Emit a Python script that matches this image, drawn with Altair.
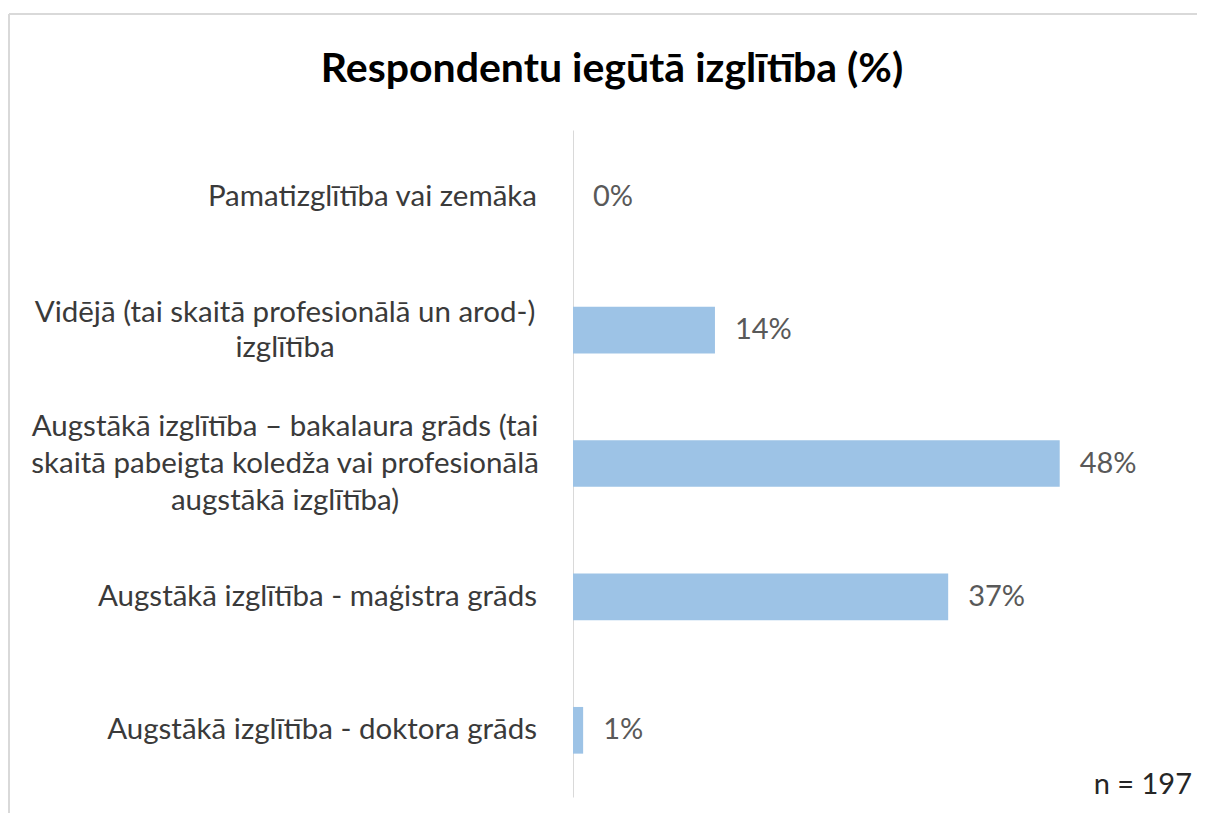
import altair as alt
import pandas as pd

categories = [
    "Pamatizglītība vai zemāka",
    "Vidējā (tai skaitā profesionālā un arod-) izglītība",
    "Augstākā izglītība – bakalaura grāds (tai skaitā pabeigta koledža vai profesionālā augstākā izglītība)",
    "Augstākā izglītība - maģistra grāds",
    "Augstākā izglītība - doktora grāds",
]
label_lines = [
    ["Pamatizglītība vai zemāka"],
    ["Vidējā (tai skaitā profesionālā un arod-)", "izglītība"],
    ["Augstākā izglītība – bakalaura grāds (tai", "skaitā pabeigta koledža vai profesionālā", "augstākā izglītība)"],
    ["Augstākā izglītība - maģistra grāds"],
    ["Augstākā izglītība - doktora grāds"],
]
values = [0, 14, 48, 37, 1]
value_labels = ["0%", "14%", "48%", "37%", "1%"]
title_text = "Respondentu iegūtā izglītība (%)"
note_text = "n = 197"

df = pd.DataFrame({
    "cat": categories,
    "lines": label_lines,
    "nlines": [len(l) for l in label_lines],
    "val": values,
    "lbl": value_labels,
})

FONT = "Lato"
FS = 29.5
LH = 37
LABEL_COLOR = "#3A3A3A"
W, H = 507, 667

y = alt.Y("cat:N", sort=categories,
          scale=alt.Scale(paddingInner=0.65, paddingOuter=0.325),
          axis=alt.Axis(labels=False, ticks=False, title=None, grid=False,
                        domainColor="#D9D9D9", domainWidth=1))
x = alt.X("val:Q", scale=alt.Scale(domain=[0, 50]), axis=None)

base = alt.Chart(df)
one = base.transform_filter("datum.val == 48")

bars = base.mark_bar(color="#9DC3E6").encode(x=x, y=y)

vals = base.mark_text(align="left", baseline="middle", dx=20, font=FONT,
                      fontSize=29, color="#595959").encode(x=x, y=y, text="lbl:N")

single = base.transform_filter("datum.nlines == 1").mark_text(
    align="right", baseline="middle", font=FONT, fontSize=FS, color=LABEL_COLOR
).encode(x=alt.value(-36), y=y, text="lines")

two = base.transform_filter("datum.nlines == 2").mark_text(
    align="center", baseline="middle", font=FONT, fontSize=FS, color=LABEL_COLOR,
    lineHeight=LH - 2, dy=-(LH - 2) / 2
).encode(x=alt.value(-288), y=y, text="lines")

three = base.transform_filter("datum.nlines == 3").mark_text(
    align="center", baseline="middle", font=FONT, fontSize=FS, color=LABEL_COLOR,
    lineHeight=LH, dy=-LH
).encode(x=alt.value(-288), y=y, text="lines")

title = one.mark_text(
    align="center", baseline="middle", font=FONT, fontSize=41, fontWeight="bold",
    color="#000000", text=title_text
).encode(x=alt.value(39), y=alt.value(-60))

note = one.mark_text(
    align="right", baseline="middle", font=FONT, fontSize=29, color="#262626",
    text=note_text
).encode(x=alt.value(619), y=alt.value(655))

border_top = one.mark_rule(color="#D9D9D9", strokeWidth=2).encode(
    x=alt.value(-564), x2=alt.value(700), y=alt.value(-116))
border_left = one.mark_rule(color="#D9D9D9", strokeWidth=2).encode(
    x=alt.value(-564), y=alt.value(-116), y2=alt.value(720))

chart = alt.layer(border_top, border_left, bars, vals, single, two, three, title, note).properties(
    width=W, height=H,
    background="white",
    autosize=alt.AutoSizeParams(type="none"),
    padding={"left": 565, "top": 122, "right": 117, "bottom": 16},
).configure_view(stroke=None)

chart.save("out.html", embed_options={"renderer": "svg", "actions": False})
